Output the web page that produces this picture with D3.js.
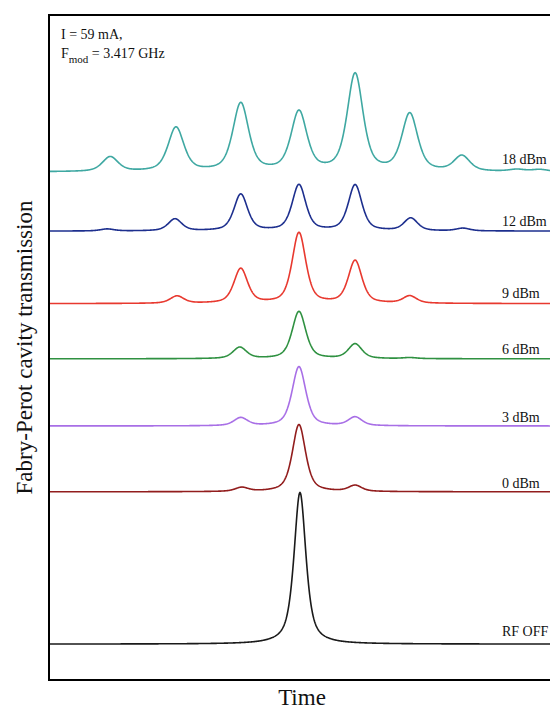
<!DOCTYPE html>
<html>
<head>
<meta charset="utf-8">
<script src="https://cdn.jsdelivr.net/npm/d3@7"></script>
<style>
    body { margin: 0; background: #fff; }
    text { font-family: "Liberation Serif", "Times New Roman", serif; fill: #111; }
</style>
</head>
<body>
<div id="chart"></div>
<script>
'use strict';
// Fabry-Perot transmission traces, offset vertically, one per RF power
const traceLabels = ['18 dBm', '12 dBm', '9 dBm', '6 dBm', '3 dBm', '0 dBm', 'RF OFF']
const traceColors = ['#3fa8a2', '#1d2f8e', '#e8392f', '#2f9141', '#a86fe6', '#921d1d', '#1a1a1a']
const baselines = [76.4, 67.5, 56.6, 48.3, 38.2, 28.3, 5.4] // a.u.
// peak centres (time, a.u.) and peak heights above baseline (a.u.)
const peakCentres = [
    [12.1, 25.1, 37.9, 49.4, 60.5, 71.3, 81.6, 92.5, 97.0],
    [11.5, 24.9, 37.9, 49.4, 60.5, 71.5, 81.8],
    [25.3, 37.9, 49.4, 60.5, 71.3],
    [37.7, 49.4, 60.5, 71.3],
    [37.9, 49.4, 60.5],
    [38.1, 49.4, 60.5],
    [49.6]
]
const peakHeights = [
    [2.2, 6.6, 10.2, 8.9, 14.6, 8.6, 2.3, 0.3, 0.3],
    [0.3, 1.8, 5.5, 6.9, 6.9, 1.9, 0.4],
    [1.1, 5.2, 10.6, 6.4, 1.1],
    [1.7, 7.1, 2.2, 0.15],
    [1.2, 8.9, 1.3],
    [0.6, 10.1, 0.9],
    [22.8]
]
const peakWidths = [3.7, 3.2, 3.2, 3.2, 3.2, 3.1, 2.8] // FWHM, a.u.
const lorentzShare = [0.55, 0.55, 0.55, 0.55, 0.55, 0.6, 0.7] // pseudo-Voigt mix

const width = 550
const height = 711
const margin = { top: 15, right: -5, bottom: 31, left: 49 }

const svg = d3.select('#chart').append('svg')
    .attr('width', width)
    .attr('height', height)

const x = d3.scaleLinear()
    .domain([0, 100])
    .range([margin.left, width - margin.right])
const y = d3.scaleLinear()
    .domain([0, 100])
    .range([height - margin.bottom, margin.top])

// pseudo-Voigt line shape for each measured peak
function transmission(i, t) {
    let v = baselines[i]
    const eta = lorentzShare[i]
    peakCentres[i].forEach(function(c, k) {
        const u = (t - c) / peakWidths[i]
        const lor = 1 / (1 + 4 * u * u)
        const gau = Math.exp(-4 * Math.LN2 * u * u)
        v += peakHeights[i][k] * (eta * lor + (1 - eta) * gau)
    })
    return v
}

const times = d3.range(0, 100.001, 0.1)
const line = d3.line()
    .x(function(d) { return x(d.t) })
    .y(function(d) { return y(d.v) })

traceLabels.forEach(function(label, i) {
    const pts = times.map(function(t) { return { t: t, v: transmission(i, t) } })
    svg.append('path').datum(pts) // trace
        .attr('fill', 'none')
        .attr('stroke', traceColors[i])
        .attr('stroke-width', 1.6)
        .attr('stroke-linejoin', 'round')
        .attr('d', line)
})

// trace labels sit just above each baseline
const labelLift = [8, 5, 6, 5, 4, 4, 8]
traceLabels.forEach(function(label, i) {
    svg.append('text')
        .attr('x', 502)
        .attr('y', y(baselines[i]) - labelLift[i])
        .style('font-size', '14px')
        .text(label)
})

svg.append('rect') // frame
    .attr('x', x(0))
    .attr('y', y(100))
    .attr('width', x(100) - x(0))
    .attr('height', y(0) - y(100))
    .attr('fill', 'none')
    .attr('stroke', '#000')
    .attr('stroke-width', 2)

const note = svg.append('text') // operating point
    .attr('x', 61)
    .attr('y', 39)
    .style('font-size', '14px')
note.append('tspan').text('I = 59 mA,')
const note2 = svg.append('text')
    .attr('x', 61)
    .attr('y', 58)
    .style('font-size', '14px')
note2.append('tspan').text('F')
note2.append('tspan').attr('dy', 5).style('font-size', '11px').text('mod')
note2.append('tspan').attr('dy', -5).text(' = 3.417 GHz')

svg.append('text') // x axis label
    .attr('x', (x(0) + x(100)) / 2)
    .attr('y', 705)
    .attr('text-anchor', 'middle')
    .style('font-size', '23px')
    .text('Time')

svg.append('text') // y axis label
    .attr('transform', `translate(32, ${(y(0) + y(100)) / 2}) rotate(-90)`)
    .attr('text-anchor', 'middle')
    .style('font-size', '23px')
    .text('Fabry-Perot cavity transmission')
</script>
</body>
</html>
